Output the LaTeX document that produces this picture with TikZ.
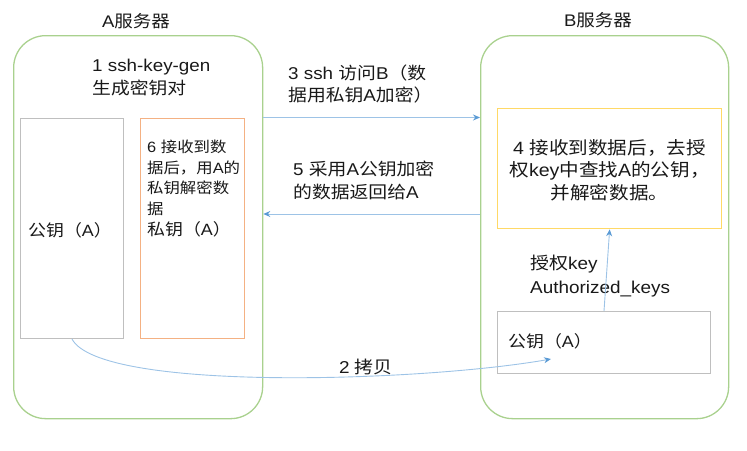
\documentclass[tikz,border=0pt]{standalone}
\usepackage{fontspec}
\setmainfont{Liberation Sans}[FakeStretch=1.1]
\newfontfamily\cjk{Noto Sans CJK SC}[FakeStretch=1.1]
\newcommand\zh[1]{{\cjk #1}}
\usetikzlibrary{arrows.meta}
\definecolor{grn}{HTML}{A9D18E}
\definecolor{org}{HTML}{F4B183}
\definecolor{ylw}{HTML}{FFD966}
\definecolor{gry}{HTML}{BFBFBF}
\definecolor{blu}{HTML}{5B9BD5}
\definecolor{blul}{HTML}{9DC3E6}
\begin{document}
\begin{tikzpicture}[x=1pt,y=-1pt,
  server/.style={draw=grn, line width=1.3pt, rounded corners=32pt, anchor=north west, inner sep=0pt},
  keybox/.style={draw=gry, line width=1pt, anchor=north west, inner sep=0pt},
  privbox/.style={draw=org, line width=1.2pt, anchor=north west, inner sep=0pt},
  ylwbox/.style={draw=ylw, line width=1.3pt, anchor=north west, inner sep=0pt},
  txt/.style={inner sep=0pt, align=left, anchor=west, text=black!90, font=\fontsize{17.1}{23}\selectfont},
  ttl/.style={inner sep=0pt, text=black!90, font=\fontsize{16.8}{20}\selectfont},
  arr/.style={draw=blul, line width=0.9pt, -{Stealth[length=7pt,width=6pt,color=blu]}}
]
\useasboundingbox (0,0) rectangle (747,450);
% servers
\node[server, minimum width=249pt, minimum height=383pt] (A) at (13,35) {};
\node[server, minimum width=248pt, minimum height=383pt] (B) at (480,35) {};
\node[ttl] (Atitle) at (136,21) {A\zh{服务器}};
\node[ttl] (Btitle) at (598,20) {B\zh{服务器}};
% A contents
\node[txt] (s1) at (92,77.5) {1 ssh-key-gen\\\zh{生成密钥对}};
\node[keybox, minimum width=103pt, minimum height=220pt] (pubA) at (20,118) {};
\node[privbox, minimum width=104pt, minimum height=220pt] (privA) at (140,118) {};
\node[txt, font=\fontsize{16.3}{20}\selectfont] (pubAl) at (28,230) {\zh{公钥（}A\zh{）}};
\node[txt, font=\fontsize{14.9}{20.7}\selectfont] (s6) at (147,188.5)
  {6 \zh{接收到数}\\\zh{据后，用}A\zh{的}\\\zh{私钥解密数}\\\zh{据}\\{\fontsize{16.3}{21.5}\selectfont\zh{私钥（}A\zh{）}}};
% B contents
\node[ylwbox, minimum width=224pt, minimum height=120pt] (Y) at (497,108) {};
\node[txt, anchor=center, align=center, font=\fontsize{17.8}{22.5}\selectfont] (s4) at (609.5,170)
  {4 \zh{接收到数据后，去授}\\\zh{权}key\zh{中查找}A\zh{的公钥，}\\\zh{并解密数据。}};
\node[keybox, minimum width=213pt, minimum height=62pt] (pubB) at (497,311) {};
\node[txt, font=\fontsize{16.3}{20}\selectfont] (pubBl) at (508,341) {\zh{公钥（}A\zh{）}};
\node[txt, font=\fontsize{17.2}{24}\selectfont] (auth) at (530,276) {\zh{授权}key\\Authorized\_keys};
% middle labels
\node[txt] (s3) at (288,84) {3 ssh \zh{访问}B\zh{（数}\\\zh{据用私钥}A\zh{加密）}};
\node[txt] (s5) at (293,180) {5 \zh{采用}A\zh{公钥加密}\\\zh{的数据返回给}A};
\node[ttl, font=\fontsize{17.2}{20}\selectfont] (s2) at (366,367) {2 \zh{拷贝}};
% connectors
\coordinate (y3) at (0,117.5);
\coordinate (y5) at (0,214);
\coordinate (cpyend) at (551,359);
\draw[arr] (A.east |- y3) -- (B.west |- y3);
\draw[arr] (B.west |- y5) -- (A.east |- y5);
\draw[arr] (pubB.north) -- (Y.south);
\draw[arr] (pubA.south) .. controls (100,392) and (420,382) .. (cpyend);
\end{tikzpicture}
\end{document}
